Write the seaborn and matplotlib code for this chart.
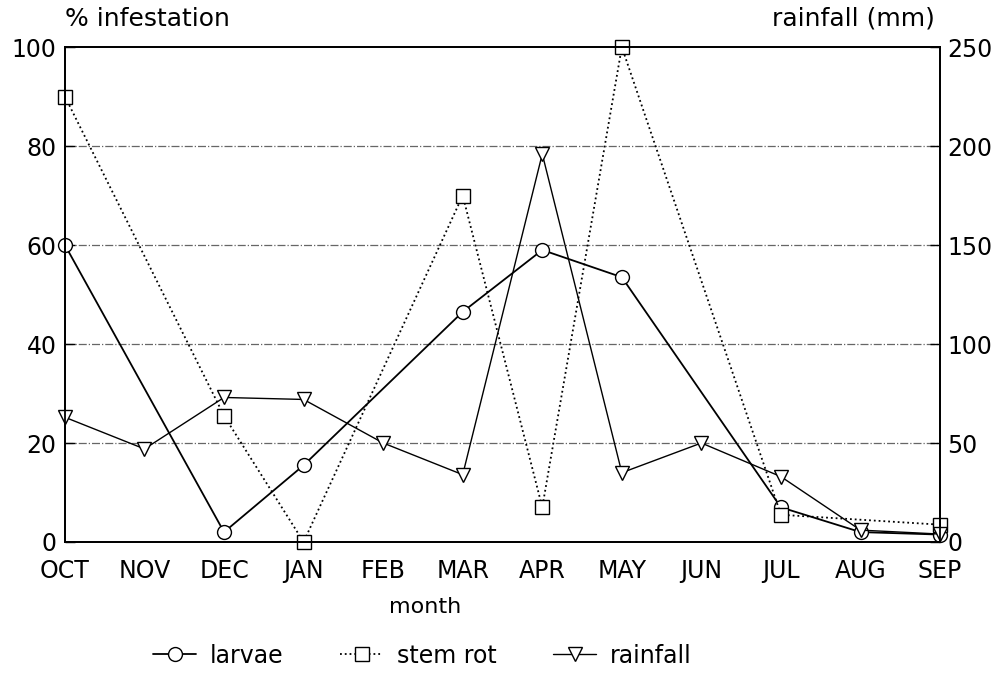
import numpy as np
import pandas as pd
import matplotlib
matplotlib.use("Agg")
import matplotlib.pyplot as plt
import seaborn as sns

# values
months = ["OCT", "NOV", "DEC", "JAN", "FEB", "MAR", "APR", "MAY", "JUN", "JUL", "AUG", "SEP"]
larvae = [60, np.nan, 2, 15.5, np.nan, 46.5, 59, 53.5, np.nan, 7, 2, 1.5]
stem_rot = [90, np.nan, 25.5, 0, np.nan, 70, 7, 100, np.nan, 5.5, np.nan, 3.5]
rainfall = [63, 47, 73, 72, 50, 34, 196, 35, 50, 33, 6, 4]

df = pd.DataFrame({"x": np.arange(len(months)), "larvae": larvae,
                   "stem_rot": stem_rot, "rainfall": rainfall})

sns.set_style("white")
plt.rcParams["font.family"] = ["DejaVu Sans"]
plt.rcParams["text.color"] = "black"
plt.rcParams["xtick.color"] = "black"
plt.rcParams["ytick.color"] = "black"
plt.rcParams["xtick.direction"] = "in"
plt.rcParams["ytick.direction"] = "in"

fig = plt.figure(figsize=(9.99, 6.78), dpi=100)
ax = fig.add_axes([0.065, 0.2006, 0.876, 0.730])
ax2 = ax.twinx()

mk = dict(markerfacecolor="white", markeredgecolor="black", markeredgewidth=1.0,
          markersize=10, clip_on=False)

d = df.dropna(subset=["larvae"])
sns.lineplot(data=d, x="x", y="larvae", ax=ax, color="black", linewidth=1.3,
             marker="o", label="larvae", legend=False, **mk)
d = df.dropna(subset=["stem_rot"])
sns.lineplot(data=d, x="x", y="stem_rot", ax=ax, color="black", linewidth=1.3,
             linestyle=":", marker="s", label="stem rot", legend=False, **mk)
sns.lineplot(data=df, x="x", y="rainfall", ax=ax2, color="black", linewidth=1.0,
             marker="v", label="rainfall", legend=False, **mk)

ax.set_xlim(0, len(months) - 1)
ax.set_ylim(0, 100)
ax2.set_ylim(0, 250)
ax.set_xticks(df["x"])
ax.set_xticklabels(months)
ax.set_yticks([0, 20, 40, 60, 80, 100])
ax2.set_yticks([0, 50, 100, 150, 200, 250])
ax.tick_params(axis="y", labelsize=17, length=7, width=1, pad=6)
ax.tick_params(axis="x", labelsize=17, length=7, width=1, pad=12)
ax2.tick_params(axis="y", labelsize=17, length=7, width=1, pad=5)
ax.set_xlabel("")
ax.set_ylabel("")
ax2.set_ylabel("")

for y in [20, 40, 60, 80]:
    ax.axhline(y, color="#666666", linewidth=0.9, linestyle="-.", zorder=0)

for a in (ax, ax2):
    for s in a.spines.values():
        s.set_color("black")
        s.set_linewidth(1.3)

fig.text(0.065, 0.955, "% infestation", fontsize=18, ha="left", va="bottom")
fig.text(0.936, 0.955, "rainfall (mm)", fontsize=18, ha="right", va="bottom")
fig.text(0.426, 0.105, "month", fontsize=16, ha="center", va="center")

handles = ax.get_lines()[:2] + ax2.get_lines()[:1]
fig.legend(handles, ["larvae", "stem rot", "rainfall"], loc="center",
           bbox_to_anchor=(0.423, 0.033), ncol=3, frameon=False, fontsize=17,
           handlelength=1.8, columnspacing=2.4, handletextpad=0.6)

fig.savefig("out.png", dpi=100)
